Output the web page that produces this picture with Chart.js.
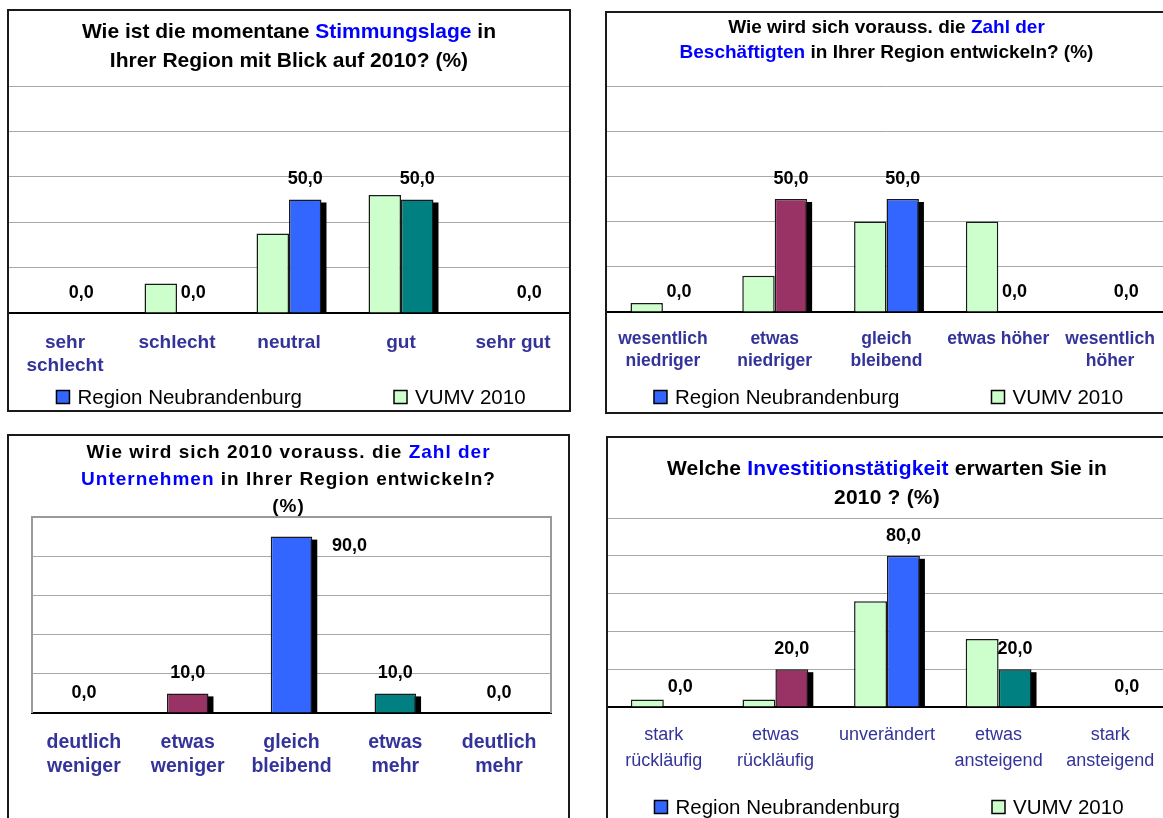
<!DOCTYPE html>
<html>
<head>
<meta charset="utf-8">
<script src="https://cdn.jsdelivr.net/npm/chart.js@4.4.1/dist/chart.umd.min.js"></script>
<style>
body { margin:0; width:1163px; height:818px; overflow:hidden; background:#fff; position:relative; font-family:"Liberation Sans", Arial, sans-serif; }
.panel { position:absolute; border:2px solid #1a1a1a; box-sizing:border-box; background:#fff; }
.panel canvas { position:absolute; left:0; top:0; }
.title { position:absolute; left:0; right:0; text-align:center; font-weight:bold; color:#000; }
.title span { color:#0000ff; }
</style>
</head>
<body>

<div class="panel" style="left:7px;top:9px;width:564px;height:403px">
  <canvas id="c1" width="560" height="399"></canvas>
  <div class="title" style="top:6px;font-size:21px;line-height:28.5px">Wie ist die momentane <span>Stimmungslage</span> in<br>Ihrer Region mit Blick auf 2010? (%)</div>
</div>

<div class="panel" style="left:605px;top:11px;width:563px;height:403px">
  <canvas id="c2" width="559" height="399"></canvas>
  <div class="title" style="top:1px;font-size:19px;line-height:25px">Wie wird sich vorauss. die <span>Zahl der</span><br><span>Beschäftigten</span> in Ihrer Region entwickeln? (%)</div>
</div>

<div class="panel" style="left:7px;top:434px;width:563px;height:400px">
  <canvas id="c3" width="559" height="396"></canvas>
  <div class="title" style="top:2px;font-size:19px;line-height:27px;letter-spacing:1px">Wie wird sich 2010 vorauss. die <span>Zahl der</span><br><span>Unternehmen</span> in Ihrer Region entwickeln?<br>(%)</div>
</div>

<div class="panel" style="left:606px;top:436px;width:562px;height:400px">
  <canvas id="c4" width="558" height="396"></canvas>
  <div class="title" style="top:15px;font-size:21px;line-height:29px;letter-spacing:0.2px">Welche <span>Investitionstätigkeit</span> erwarten Sie in<br>2010 ? (%)</div>
</div>

<script>
// data (values in %)
var catStimmung = [['sehr', 'schlecht'], 'schlecht', 'neutral', 'gut', 'sehr gut'];
var regionStimmung = [0, 0, 50, 50, 0];
var vumvStimmung = [0, 13, 35, 52, 0];

var catBeschaeftigte = [['wesentlich', 'niedriger'], ['etwas', 'niedriger'], ['gleich', 'bleibend'], 'etwas höher', ['wesentlich', 'höher']];
var regionBeschaeftigte = [0, 50, 50, 0, 0];
var vumvBeschaeftigte = [4, 16, 40, 40, 0];

var catUnternehmen = [['deutlich', 'weniger'], ['etwas', 'weniger'], ['gleich', 'bleibend'], ['etwas', 'mehr'], ['deutlich', 'mehr']];
var regionUnternehmen = [0, 10, 90, 10, 0];

var catInvestition = [['stark', 'rückläufig'], ['etwas', 'rückläufig'], 'unverändert', ['etwas', 'ansteigend'], ['stark', 'ansteigend']];
var regionInvestition = [0, 20, 80, 20, 0];
var vumvInvestition = [4, 4, 56, 36, 0];

var yMax = 100;
var yStep = 20;

// colours
var regionColors = ['#3366FF', '#993366', '#3366FF', '#008080', '#3366FF'];
var regionLegendColor = '#3366FF';
var vumvColor = '#CCFFCC';
var labelColor = '#333399';
var gridColor = '#a8a8a8';
var fontFamily = '"Liberation Sans", Arial, sans-serif';

Chart.defaults.font.family = fontFamily;

// black drop shadow behind the region bars
var barShadow = {
    id: 'barShadow',
    beforeDatasetDraw: function (chart, args) {
        var ds = chart.data.datasets[args.index];
        if (!ds.shadow) return;
        var ctx = chart.ctx;
        var base = chart.scales.y.getPixelForValue(0);
        ctx.save();
        ctx.fillStyle = '#000';
        args.meta.data.forEach(function (bar, i) {
            if (!ds.data[i]) return;
            ctx.fillRect(bar.x - bar.width / 2 + 5, bar.y + 3, bar.width, base - bar.y - 3);
        });
        ctx.restore();
    }
};

// "50,0" style value labels above the region bars
var valueLabels = {
    id: 'valueLabels',
    afterDatasetsDraw: function (chart, args, opts) {
        var ctx = chart.ctx;
        chart.data.datasets.forEach(function (ds, di) {
            if (!ds.showValues) return;
            var meta = chart.getDatasetMeta(di);
            ctx.save();
            ctx.font = 'bold 18px ' + fontFamily;
            ctx.fillStyle = '#000';
            ctx.textAlign = 'center';
            ctx.textBaseline = 'middle';
            meta.data.forEach(function (bar, i) {
                var shift = (opts.shift && opts.shift[i]) || [0, -20];
                ctx.fillText(ds.data[i].toFixed(1).replace('.', ','), bar.x + shift[0], bar.y + shift[1]);
            });
            ctx.restore();
        });
    }
};

// legend with the two entries spread apart, like the original
var spreadLegend = {
    id: 'spreadLegend',
    afterDraw: function (chart, args, opts) {
        if (!opts.show) return;
        var ctx = chart.ctx;
        var items = opts.order.map(function (di) {
            var ds = chart.data.datasets[di];
            return { text: ds.label, color: ds.legendColor };
        });
        var box = 13, textGap = 8;
        ctx.save();
        ctx.font = '20.5px ' + fontFamily;
        var widths = items.map(function (it) { return box + textGap + ctx.measureText(it.text).width; });
        var total = widths[0] + opts.gap + widths[1];
        var x = (chart.chartArea.left + chart.chartArea.right) / 2 - total / 2 + 2;
        var y = chart.chartArea.bottom + opts.offset;
        items.forEach(function (it, k) {
            ctx.fillStyle = it.color;
            ctx.fillRect(x, y - box / 2, box, box);
            ctx.strokeStyle = '#000';
            ctx.lineWidth = 1.5;
            ctx.strokeRect(x, y - box / 2, box, box);
            ctx.fillStyle = '#000';
            ctx.textAlign = 'left';
            ctx.textBaseline = 'middle';
            ctx.fillText(it.text, x + box + textGap, y + 1);
            x += widths[k] + opts.gap;
        });
        ctx.restore();
    }
};

// grey frame round the plot (only panel 3 has one)
var plotFrame = {
    id: 'plotFrame',
    beforeDatasetsDraw: function (chart, args, opts) {
        if (!opts.show) return;
        var a = chart.chartArea, ctx = chart.ctx;
        ctx.save();
        ctx.strokeStyle = '#999';
        ctx.lineWidth = 2;
        ctx.beginPath();
        ctx.moveTo(a.left, a.bottom);
        ctx.lineTo(a.left, a.top);
        ctx.lineTo(a.right, a.top);
        ctx.lineTo(a.right, a.bottom);
        ctx.stroke();
        ctx.restore();
    }
};

function makeChart(id, cfg) {
    var datasets = [];
    if (cfg.vumv) {
        datasets.push({
            label: 'VUMV 2010',
            data: cfg.vumv,
            backgroundColor: vumvColor,
            legendColor: vumvColor,
            borderColor: '#1a1a1a',
            borderWidth: 1.5
        });
    }
    datasets.push({
        label: 'Region Neubrandenburg',
        data: cfg.region,
        backgroundColor: regionColors,
        legendColor: regionLegendColor,
        borderColor: '#1a1a1a',
        borderWidth: 1.5,
        shadow: true,
        showValues: true
    });

    return new Chart(document.getElementById(id), {
        type: 'bar',
        data: { labels: cfg.labels, datasets: datasets },
        options: {
            responsive: false,
            animation: false,
            devicePixelRatio: 1,
            events: [],
            datasets: { bar: { categoryPercentage: cfg.catPct, barPercentage: 1 } },
            layout: { padding: { top: cfg.top, left: cfg.left || 0, right: cfg.right || 0, bottom: 0 } },
            scales: {
                x: {
                    grid: { display: false },
                    border: { display: true, color: '#000', width: 2 },
                    ticks: {
                        autoSkip: false,
                        maxRotation: 0,
                        minRotation: 0,
                        padding: cfg.tickPad,
                        color: labelColor,
                        font: { size: cfg.tickSize, weight: cfg.tickWeight, lineHeight: cfg.tickLine }
                    },
                    afterFit: function (scale) { scale.height = cfg.xHeight; }
                },
                y: {
                    min: 0,
                    max: yMax,
                    ticks: { display: false, stepSize: yStep },
                    border: { display: false },
                    grid: {
                        drawTicks: false,
                        lineWidth: 1,
                        color: function (c) { return c.tick && c.tick.value === 0 ? 'rgba(0,0,0,0)' : gridColor; }
                    }
                }
            },
            plugins: {
                legend: { display: false },
                tooltip: { enabled: false },
                valueLabels: { shift: cfg.shift },
                spreadLegend: { show: !!cfg.vumv, order: [1, 0], gap: 92, offset: cfg.legendOffset },
                plotFrame: { show: !!cfg.frame }
            }
        },
        plugins: [barShadow, valueLabels, spreadLegend, plotFrame]
    });
}

makeChart('c1', {
    labels: catStimmung, region: regionStimmung, vumv: vumvStimmung,
    catPct: 0.58, top: 75, xHeight: 97, tickPad: 10.5, tickSize: 19, tickWeight: 'bold', tickLine: 1.2,
    legendOffset: 84
});

makeChart('c2', {
    labels: catBeschaeftigte, region: regionBeschaeftigte, vumv: vumvBeschaeftigte,
    catPct: 0.58, top: 73, xHeight: 100, tickPad: 7.5, tickSize: 17.5, tickWeight: 'bold', tickLine: 1.3,
    legendOffset: 85
});

makeChart('c3', {
    labels: catUnternehmen, region: regionUnternehmen,
    catPct: 0.4, top: 81, left: 23, right: 17, xHeight: 119, tickPad: 10, tickSize: 19.5, tickWeight: 'bold', tickLine: 1.23,
    frame: true,
    shift: [null, null, [58, 9], null, null]
});

makeChart('c4', {
    labels: catInvestition, region: regionInvestition, vumv: vumvInvestition,
    catPct: 0.59, top: 80, xHeight: 127, tickPad: 7, tickSize: 18, tickWeight: 'normal', tickLine: 1.44,
    legendOffset: 100
});
</script>
</body>
</html>
